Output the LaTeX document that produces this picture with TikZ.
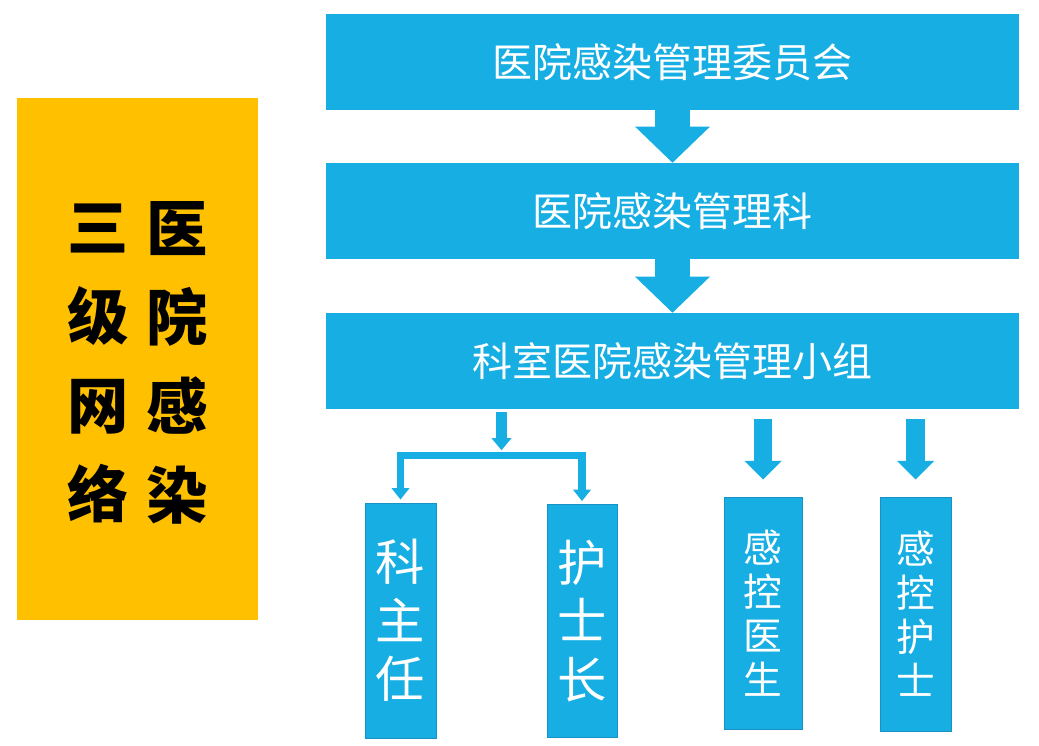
\documentclass[tikz,border=0pt]{standalone}
\usepackage{fontspec}
\newfontfamily\cjk{Noto Sans CJK SC}
\usepackage{tikz}
\usetikzlibrary{arrows.meta}
\definecolor{infoblue}{RGB}{22,174,227}
\definecolor{edgeblue}{RGB}{24,146,196}
\definecolor{netorange}{RGB}{255,192,0}

\begin{document}
\begin{tikzpicture}[x=0.75pt,y=0.75pt,yscale=-1,xscale=1,
  levelbox/.style={fill=infoblue, draw=none, minimum width=519.75pt, minimum height=72pt, inner sep=0pt,
    text=white, font=\cjk\fontsize{30}{36}\selectfont},
  staffbox/.style={fill=infoblue, draw=edgeblue, line width=0.75pt, inner sep=0pt, align=center, text=white},
  bigarrow/.style={draw=infoblue, line width=26.25pt, -{Triangle[length=27pt, width=56pt, line width=0pt]}},
  midarrow/.style={draw=infoblue, line width=14pt, -{Triangle[length=14pt, width=28pt, line width=0pt]}},
  smallarrow/.style={draw=infoblue, line width=8pt, -{Triangle[length=9pt, width=15pt, line width=0pt]}},
  bracket/.style={draw=infoblue, line width=5.5pt, line join=miter, -{Triangle[length=8.5pt, width=13.5pt, line width=0pt]}}]
%uncomment if require: \path (0,746); %set diagram left start at 0, and has height of 746
\useasboundingbox (0,0) rectangle (1039,746);

%Shape: Rectangle [network]
\node [fill=netorange, minimum width=180.75pt, minimum height=391.5pt, inner sep=0pt] (network) at (137.5,359) {};
% Text Node
\node [align=center, inner sep=0pt, font=\cjk\bfseries\fontsize{46}{66.75}\selectfont] (netleft) at (98,363) {三\\级\\网\\络};
% Text Node
\node [align=center, inner sep=0pt, font=\cjk\bfseries\fontsize{46}{66.75}\selectfont] (netright) at (177,363) {医\\院\\感\\染};

%Shape: Rectangle [levels]
\node [levelbox] (committee) at (672.5,62) {医院感染管理委员会};
\node [levelbox] (office) at (672.5,211) {医院感染管理科};
\node [levelbox] (group) at (672.5,361) {科室医院感染管理小组};

%Shape: Rectangle [staff]
\node [staffbox, minimum width=53.25pt, minimum height=176.25pt, font=\cjk\fontsize{37}{44}\selectfont] (chief) at (400.5,620.5) {科\\主\\任};
\node [staffbox, minimum width=52.5pt, minimum height=174.75pt, font=\cjk\fontsize{37}{44}\selectfont] (headnurse) at (582,621) {护\\士\\长};
\node [staffbox, minimum width=58.5pt, minimum height=174pt, font=\cjk\fontsize{29}{33}\selectfont] (doctor) at (763,613) {感\\控\\医\\生};
\node [staffbox, minimum width=53.25pt, minimum height=175.5pt, font=\cjk\fontsize{29}{33}\selectfont] (nurse) at (915.5,614) {感\\控\\护\\士};

\coordinate (split) at (501.5,455.5);

%Straight Lines [levels]
\draw [bigarrow] (committee.south) -- (office.north);
\draw [bigarrow] (office.south) -- (group.north);

%Straight Lines [staff]
\draw [smallarrow, shorten <=2.25pt, shorten >=4pt] (group.south -| split) -- (split);
\draw [bracket, shorten >=2.25pt] (split) -| (chief.north);
\draw [bracket, shorten >=2.25pt] (split) -| (headnurse.north);
\draw [midarrow, shorten <=7.5pt, shorten >=12.75pt] (group.south -| doctor.north) -- (doctor.north);
\draw [midarrow, shorten <=7.5pt, shorten >=12.75pt] (group.south -| nurse.north) -- (nurse.north);

\end{tikzpicture}
\end{document}
